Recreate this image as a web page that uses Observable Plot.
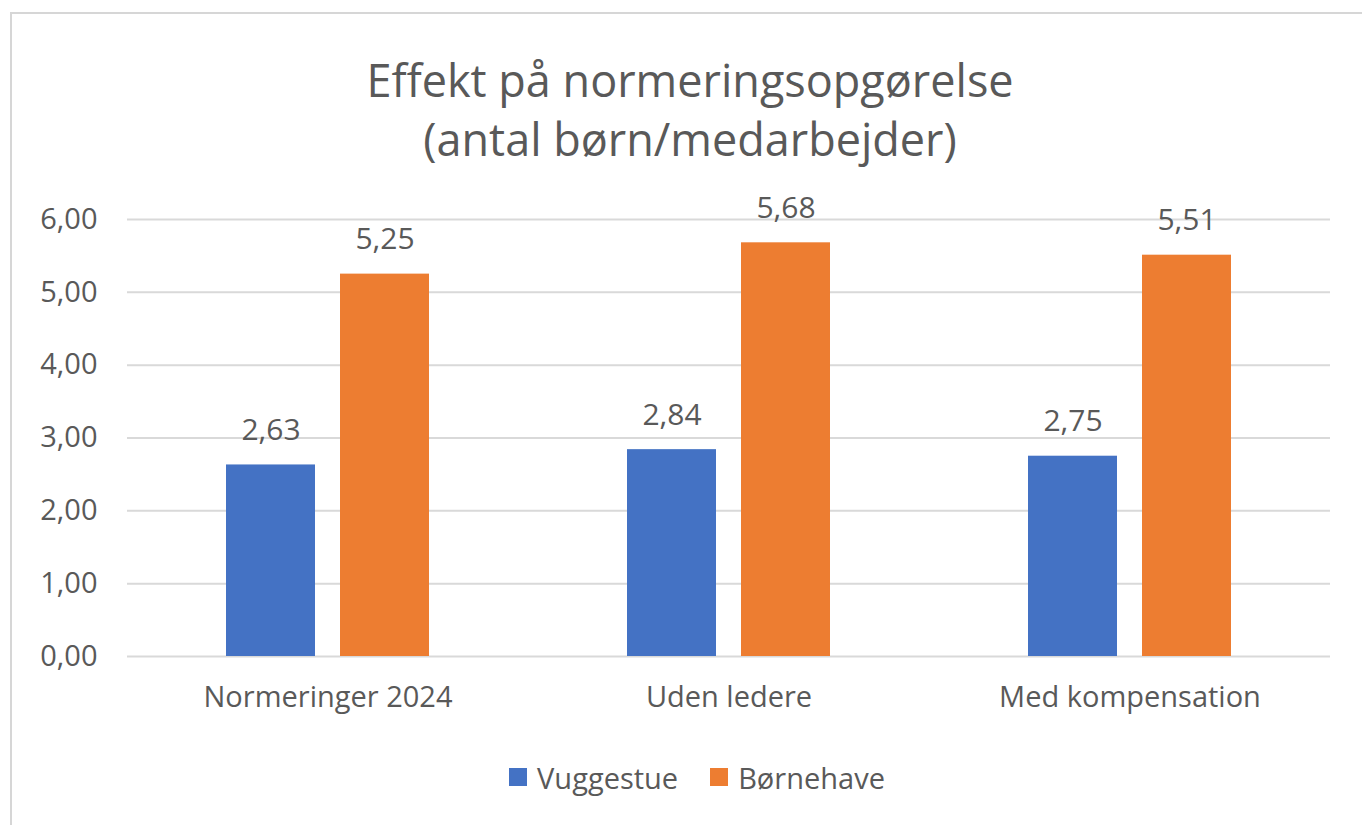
<!DOCTYPE html>
<html>
<head>
<meta charset="utf-8">
<script src="https://cdn.jsdelivr.net/npm/d3@7"></script>
<script src="https://cdn.jsdelivr.net/npm/@observablehq/plot@0.6"></script>
<style>
  html, body { margin: 0; padding: 0; width: 1362px; height: 825px; overflow: hidden; background: #fff; }
  body { position: relative; font-family: "Open Sans", sans-serif; color: #595959; }
  #frame { position: absolute; left: 10px; top: 12px; width: 1400px; height: 900px; border: 2px solid #d6d6d6; box-sizing: border-box; }
  #title { position: absolute; left: 190px; width: 1000px; top: 50px; text-align: center; font-size: 45px; line-height: 59px; color: #595959; }
  #chart { position: absolute; left: 0; top: 180px; }
  #legend { position: absolute; left: 0; width: 1394px; top: 755px; text-align: center; font-size: 29px; color: #595959; }
  #legend span.item { display: inline-flex; align-items: center; margin: 0 16px; }
  #legend span.sw { display: inline-block; width: 18px; height: 18px; margin-right: 10px; }
</style>
</head>
<body>
<div id="frame"></div>
<div id="title">Effekt på normeringsopgørelse<br>(antal børn/medarbejder)</div>
<div id="chart"></div>
<div id="legend"></div>
<script>
const categories = ["Normeringer 2024", "Uden ledere", "Med kompensation"];
const series = ["Vuggestue", "Børnehave"];
const vuggestue = [2.63, 2.84, 2.75];
const bornehave = [5.25, 5.68, 5.51];
const yTicks = [0, 1, 2, 3, 4, 5, 6];
const colors = ["#4472C4", "#ED7D31"];

const data = [];
categories.forEach((c, i) => {
  data.push({group: c, series: series[0], value: vuggestue[i]});
  data.push({group: c, series: series[1], value: bornehave[i]});
});
const fmt = v => v.toFixed(2).replace(".", ",");

const plot = Plot.plot({
  width: 1362,
  height: 556,
  marginTop: 39,
  marginBottom: 80,
  marginLeft: 127,
  marginRight: 32,
  style: {fontFamily: "Open Sans, sans-serif", fontSize: "29px", color: "#595959", background: "transparent", overflow: "visible"},
  fx: {domain: categories, padding: 0, axis: "bottom", tickSize: 0, tickPadding: 30, label: null},
  x: {domain: series, paddingInner: 0.217, paddingOuter: 0.852, axis: null},
  y: {domain: [0, 6], ticks: yTicks, tickFormat: fmt, tickSize: 0, tickPadding: 30, label: null},
  color: {domain: series, range: colors},
  marks: [
    Plot.ruleY(yTicks, {stroke: "#d9d9d9", strokeWidth: 2}),
    Plot.barY(data, {fx: "group", x: "series", y: "value", fill: "series"}),
    Plot.text(data, {fx: "group", x: "series", y: "value", text: d => fmt(d.value), lineAnchor: "bottom", dy: -25, fontSize: 30, fill: "#595959"})
  ]
});
document.getElementById("chart").appendChild(plot);

const legend = document.getElementById("legend");
series.forEach((s, i) => {
  const item = document.createElement("span");
  item.className = "item";
  const sw = document.createElement("span");
  sw.className = "sw";
  sw.style.background = colors[i];
  item.appendChild(sw);
  item.appendChild(document.createTextNode(s));
  legend.appendChild(item);
});
</script>
</body>
</html>
